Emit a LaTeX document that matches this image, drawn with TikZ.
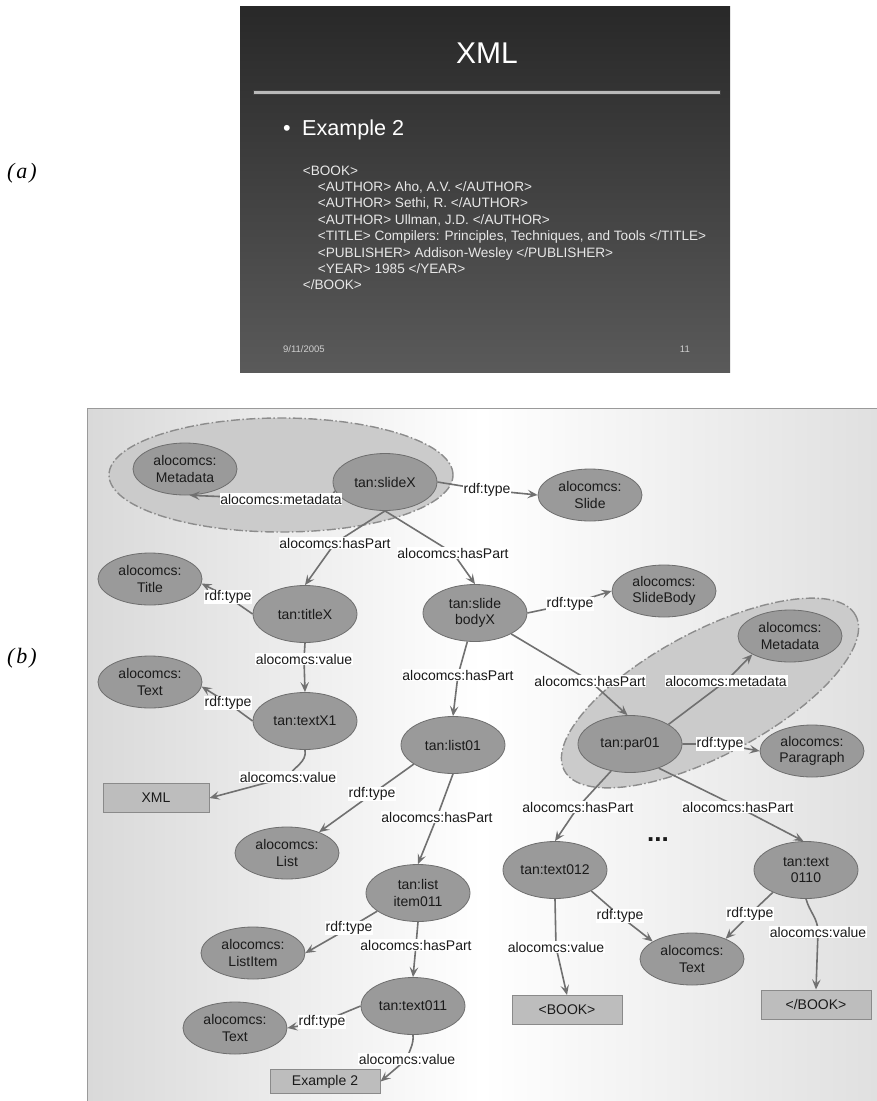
\documentclass[tikz,border=0pt]{standalone}
\usepackage{fontspec}
\setmainfont{Liberation Sans}
\newfontfamily\capserif{Liberation Serif}
\usetikzlibrary{shapes.geometric,arrows.meta}
\definecolor{nodefill}{HTML}{9A9A9A}
\definecolor{nodeline}{HTML}{6E6E6E}
\definecolor{rectfill}{HTML}{BDBDBD}
\definecolor{rectline}{HTML}{8A8A8A}
\definecolor{edgecol}{HTML}{707070}
\definecolor{groupfill}{HTML}{CBCBCB}
\definecolor{groupline}{HTML}{8C8C8C}
\definecolor{panelL}{HTML}{D9D9D9}
\definecolor{panelR}{HTML}{E0E0E0}
\definecolor{panelline}{HTML}{9A9A9A}
\definecolor{slidetop}{HTML}{282828}
\definecolor{slidebot}{HTML}{5A5A5A}
\definecolor{codecol}{HTML}{E8E8E8}
\definecolor{footcol}{HTML}{CFCFCF}
\definecolor{txt}{HTML}{1A1A1A}
\newcommand\nodefont{\fontsize{14}{16.7}\selectfont}
\tikzset{
  res/.style={ellipse, draw=nodeline, line width=0.8pt, fill=nodefill,
    minimum width=104pt, minimum height=57pt, inner sep=0pt, align=center,
    font=\nodefont, text=txt},
  cls/.style={res, minimum height=52pt},
  lit/.style={rectangle, draw=rectline, line width=1pt, fill=rectfill,
    minimum width=110pt, minimum height=29pt, inner sep=0pt, font=\nodefont, text=txt},
  lbl/.style={fill=white, inner sep=0.8pt, font=\nodefont, text=txt},
  edge/.style={draw=edgecol, line width=1.6pt,
    -{Stealth[length=10pt,width=8.5pt,inset=4pt]}},
  group/.style={draw=groupline, fill=groupfill, line width=1.4pt,
    dash pattern=on 9pt off 2.5pt on 1.5pt off 2.5pt},
  code/.style={anchor=base west, inner sep=0pt, text=codecol,
    font=\fontsize{13.6}{16}\selectfont},
  tag/.style={font=\capserif\itshape\fontsize{22}{24}\selectfont, inner sep=0pt}
}
\begin{document}
\begin{tikzpicture}[x=1pt,y=1pt]
\useasboundingbox (0,0) rectangle (877,-1101);
\fill[white] (0,0) rectangle (877,-1101);

% ---------- (a) slide ----------
\node[tag] (taga) at (22,-173) {(\kern2pt a\kern2pt)};
\shade[top color=slidetop, bottom color=slidebot] (240,-6) rectangle (730,-372);
\node[anchor=base, inner sep=0pt, text=white, font=\fontsize{30}{32}\selectfont] (ttl) at (487,-63) {XML};
\draw[draw=black!75, fill=gray!55, line width=0.6pt] (253,-90) rectangle (720,-94);
\node[anchor=base west, inner sep=0pt, text=white, font=\fontsize{21.6}{24}\selectfont] (bul) at (283,-135) {•};
\node[anchor=base west, inner sep=0pt, text=white, font=\fontsize{21.6}{24}\selectfont] (ex) at (302,-135) {Example 2};
\node[code] (c1) at (302.7,-175) {<BOOK>};
\node[code] (c2) at (317.7,-191.4) {<AUTHOR> Aho, A.V. </AUTHOR>};
\node[code] (c3) at (317.7,-207.8) {<AUTHOR> Sethi, R. </AUTHOR>};
\node[code] (c4) at (317.7,-224.2) {<AUTHOR> Ullman, J.D. </AUTHOR>};
\node[code] (c5) at (317.7,-240.6) {<TITLE> Compilers: Principles, Techniques, and Tools </TITLE>};
\node[code] (c6) at (317.7,-257) {<PUBLISHER> Addison-Wesley </PUBLISHER>};
\node[code] (c7) at (317.7,-273.4) {<YEAR> 1985 </YEAR>};
\node[code] (c8) at (302.7,-289.8) {</BOOK>};
\node[anchor=base west, inner sep=0pt, text=footcol, font=\fontsize{9.5}{11}\selectfont] (date) at (283,-352) {9/11/2005};
\node[anchor=base east, inner sep=0pt, text=footcol, font=\fontsize{9.5}{11}\selectfont] (pg) at (690,-352) {11};

% ---------- (b) graph ----------
\node[tag] (tagb) at (22,-658) {(\kern2pt b\kern2pt)};
\shade[left color=panelL, right color=panelR, middle color=white] (87,-408) rectangle (877,-1101);
\draw[panelline, line width=1pt] (87,-1101) -- (87,-408) -- (877,-408);

\draw[group] (281,-475) ellipse [x radius=172, y radius=57];
\draw[group, rotate around={28:(710,-693)}] (710,-693) ellipse [x radius=165, y radius=62];

% nodes
\node[res] (slideX) at (385,-482) {tan:slideX};
\node[cls] (Metadata1) at (185,-469) {alocomcs:\\Metadata};
\node[cls] (Slide) at (590,-495) {alocomcs:\\Slide};
\node[res] (titleX) at (305,-614) {tan:titleX};
\node[cls] (Title) at (150,-579) {alocomcs:\\Title};
\node[res] (textX1) at (305,-721) {tan:textX1};
\node[cls] (Text1) at (150,-682) {alocomcs:\\Text};
\node[lit, minimum width=106pt] (XML) at (156,-798) {XML};
\node[res] (slidebodyX) at (475,-613) {tan:slide\\bodyX};
\node[cls] (SlideBody) at (664,-591) {alocomcs:\\SlideBody};
\node[res] (list01) at (453,-745) {tan:list01};
\node[cls] (List) at (287,-853) {alocomcs:\\List};
\node[res] (listitem011) at (418,-893) {tan:list\\item011};
\node[cls] (ListItem) at (253,-953) {alocomcs:\\ListItem};
\node[res] (text011) at (413,-1006) {tan:text011};
\node[cls] (Text2) at (235,-1028) {alocomcs:\\Text};
\node[lit, minimum height=24pt] (Example2) at (325,-1081.5) {Example 2};
\node[res] (par01) at (630,-744) {tan:par01};
\node[cls] (Metadata2) at (790,-636) {alocomcs:\\Metadata};
\node[cls] (Paragraph) at (812,-751) {alocomcs:\\Paragraph};
\node[res] (text012) at (555,-870) {tan:text012};
\node[res] (text0110) at (806,-870) {tan:text\\0110};
\node[cls] (Text3) at (692,-959) {alocomcs:\\Text};
\node[lit] (BOOK) at (567,-1010) {<BOOK>};
\node[lit] (EBOOK) at (816,-1004.5) {</BOOK>};
\node[anchor=base, inner sep=0pt, font=\bfseries\fontsize{26}{28}\selectfont, text=txt] (dots) at (658,-841) {...};

% label positions
\coordinate (L1) at (281,-499);
\coordinate (L2) at (487,-490);
\coordinate (L3) at (335,-543);
\coordinate (L4) at (453,-553);
\coordinate (L5) at (228,-597);
\coordinate (L6) at (304,-659);
\coordinate (L7) at (228,-703);
\coordinate (L8) at (288,-777);
\coordinate (L9) at (570,-604);
\coordinate (L10) at (458,-675);
\coordinate (L11) at (590,-681);
\coordinate (L12) at (726,-681);
\coordinate (L13) at (720,-744);
\coordinate (L14) at (578,-807);
\coordinate (L15) at (738,-807);
\coordinate (L16) at (556,-947);
\coordinate (L17) at (620,-916);
\coordinate (L18) at (750,-914);
\coordinate (L19) at (818,-932);
\coordinate (L20) at (372,-794);
\coordinate (L21) at (437,-817);
\coordinate (L22) at (349,-928);
\coordinate (L23) at (416,-945);
\coordinate (L24) at (322,-1022);
\coordinate (L25) at (407,-1059);

% edges
\draw[edge] (slideX.190) to[out=240,in=0] (L1) -- (Metadata1.-80);
\draw[edge] (slideX.east) -- (L2) -- (Slide.west);
\draw[edge] (slideX.south) -- (L3) -- (titleX.north);
\draw[edge] (slideX.south) -- (L4) -- (slidebodyX.north);
\draw[edge] (titleX.west) -- (L5) -- (Title.-5);
\draw[edge] (titleX.south) -- (L6) -- (textX1.north);
\draw[edge] (textX1.west) -- (L7) -- (Text1.-5);
\draw[edge] (textX1.south) to[out=-80,in=60] (L8) -- (XML.east);
\draw[edge] (slidebodyX.east) -- (L9) -- (SlideBody.west);
\draw[edge] (slidebodyX.-105) -- (L10) -- (list01.north);
\draw[edge] (slidebodyX.-30) -- (L11) -- (par01.95);
\draw[edge] (par01.27) -- (L12) -- (Metadata2.206);
\draw[edge] (par01.east) -- (L13) -- (Paragraph.west);
\draw[edge] (par01.235) -- (L14) -- (text012.north);
\draw[edge] (par01.-40) -- (L15) -- (text0110.95);
\draw[edge] (text012.south) -- (L16) -- (BOOK.north);
\draw[edge] (text012.-30) -- (L17) -- (Text3.156);
\draw[edge] (text0110.214) -- (L18) -- (Text3.31);
\draw[edge] (text0110.south) to[out=-75,in=90] (L19) -- (EBOOK.north);
\draw[edge] (list01.206) -- (L20) -- (List.33);
\draw[edge] (list01.south) -- (L21) -- (listitem011.north);
\draw[edge] (listitem011.204) -- (L22) -- (ListItem.east);
\draw[edge] (listitem011.south) -- (L23) -- (text011.north);
\draw[edge] (text011.west) -- (L24) -- (Text2.east);
\draw[edge] (text011.south) to[out=-85,in=75] (L25) -- (Example2.east);

% labels
\node[lbl] (l1) at (L1) {alocomcs:metadata};
\node[lbl] (l2) at (L2) {rdf:type};
\node[lbl] (l3) at (L3) {alocomcs:hasPart};
\node[lbl] (l4) at (L4) {alocomcs:hasPart};
\node[lbl] (l5) at (L5) {rdf:type};
\node[lbl] (l6) at (L6) {alocomcs:value};
\node[lbl] (l7) at (L7) {rdf:type};
\node[lbl] (l8) at (L8) {alocomcs:value};
\node[lbl] (l9) at (L9) {rdf:type};
\node[lbl] (l10) at (L10) {alocomcs:hasPart};
\node[lbl] (l11) at (L11) {alocomcs:hasPart};
\node[lbl] (l12) at (L12) {alocomcs:metadata};
\node[lbl] (l13) at (L13) {rdf:type};
\node[lbl] (l14) at (L14) {alocomcs:hasPart};
\node[lbl] (l15) at (L15) {alocomcs:hasPart};
\node[lbl] (l16) at (L16) {alocomcs:value};
\node[lbl] (l17) at (L17) {rdf:type};
\node[lbl] (l18) at (L18) {rdf:type};
\node[lbl] (l19) at (L19) {alocomcs:value};
\node[lbl] (l20) at (L20) {rdf:type};
\node[lbl] (l21) at (L21) {alocomcs:hasPart};
\node[lbl] (l22) at (L22) {rdf:type};
\node[lbl] (l23) at (L23) {alocomcs:hasPart};
\node[lbl] (l24) at (L24) {rdf:type};
\node[lbl] (l25) at (L25) {alocomcs:value};
\end{tikzpicture}
\end{document}
